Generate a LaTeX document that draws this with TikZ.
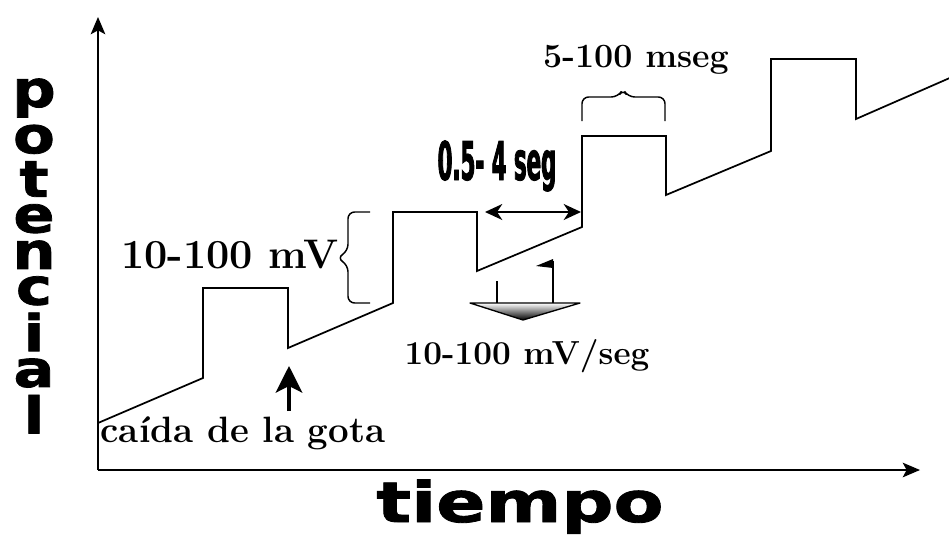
\documentclass[tikz,border=0pt]{standalone}
\usepackage{fontspec}
\newfontfamily\heavyfont{DejaVu Sans}[FakeStretch=1.3,FakeBold=1.5]
\newfontfamily\tallfont{DejaVu Sans}[FakeStretch=1.2,FakeBold=1.5]
\newfontfamily\narrowfont{DejaVu Sans}[FakeStretch=0.4,FakeBold=1.5]
\usetikzlibrary{arrows.meta}
\newcommand\vlet[1]{\hbox to 36pt{\hfil#1\hfil}}
\tikzset{
  wfline/.style={line width=1.3pt, line join=miter},
  axline/.style={line width=1pt, -{Stealth[length=13pt,width=11pt,inset=3pt]}},
  brc/.style={line width=1.1pt, rounded corners=5pt},
  dblarr/.style={line width=1.3pt, {Stealth[length=13pt,width=12pt,inset=4pt]}-{Stealth[length=13pt,width=12pt,inset=4pt]}},
  gotaarr/.style={line width=2.6pt, -{Stealth[length=20pt,width=20pt,inset=5pt]}},
  lbl/.style={font=\bfseries\fontsize{#1}{#1}\selectfont, inner sep=0pt, anchor=base},
  lbl/.default=25,
  vword/.style={font=\tallfont\bfseries\fontsize{38}{38}\selectfont, inner sep=0pt},
  bigword/.style={font=\heavyfont\bfseries\fontsize{42}{42}\selectfont, inner sep=0pt, anchor=base},
  narrowword/.style={font=\narrowfont\bfseries\fontsize{40}{40}\selectfont, inner sep=0pt, anchor=base}
}
\begin{document}
\begin{tikzpicture}[x=0.75pt, y=-0.75pt]
\useasboundingbox (0,0) rectangle (949,539);

% axes
\coordinate (orig) at (98,470);
\coordinate (ytop) at (98,17);
\coordinate (xend) at (920,470);
\draw[axline] (orig) -- (ytop);
\draw[axline] (orig) -- (xend);

% ramp with pulses
\draw[wfline] (98,423) -- (203,378) -- (203,288) -- (288,288) -- (288,348)
  -- (393,303) -- (393,212) -- (477,212) -- (477,271)
  -- (582,227) -- (582,136) -- (666,136) -- (666,195)
  -- (771,151) -- (771,59) -- (856,59) -- (856,119) -- (952,77);

% axis titles
\node[vword] (potencial) at (34,256) {\vbox{\baselineskip=0pt\lineskiplimit=1000pt\lineskip=5.5pt
  \vlet{p}\vlet{o}\vlet{t}\vlet{e}\vlet{n}\vlet{c}\vlet{i}\vlet{a}\vlet{l}}};
\node[bigword] (tiempo) at (520,522) {tiempo};

% pulse height
\draw[brc] (370,212) -- (348,212) -- (348,251) -- (337,258) -- (348,265) -- (348,303) -- (370,303);
\node[lbl=31] (pulsemv) at (230,268) {10-100 mV};

% pulse width
\draw[brc] (582,121) -- (582,97) -- (618,97) -- (623,89) -- (628,97) -- (665,97) -- (665,121);
\node[lbl=25.5] (pulsems) at (636,67) {5-100 mseg};

% drop time
\coordinate (segA) at (485,212);
\coordinate (segB) at (581,212);
\draw[dblarr] (segA) -- (segB);
\node[narrowword] (dropt) at (497,180) {0.5- 4 seg};

% scan rate
\shade[top color=white, bottom color=black] (470,303) -- (580,303) -- (523,320) -- cycle;
\draw[line width=1pt, line join=round] (470,303) -- (580,303) -- (523,320) -- cycle;
\draw[line width=1pt] (497,281) -- (497,303);
\draw[line width=1pt] (553,261) -- (553,303);
\fill (536,266) -- (553,259) -- (553,268) -- cycle;
\node[lbl=25] (rate) at (527,364) {10-100 mV/seg};

% drop fall
\node[lbl=27.5] (gota) at (243,442) {caída de la gota};
\coordinate (gotaTail) at (289,411);
\coordinate (gotaTip) at (289,366);
\draw[gotaarr] (gotaTail) -- (gotaTip);
\end{tikzpicture}
\end{document}
